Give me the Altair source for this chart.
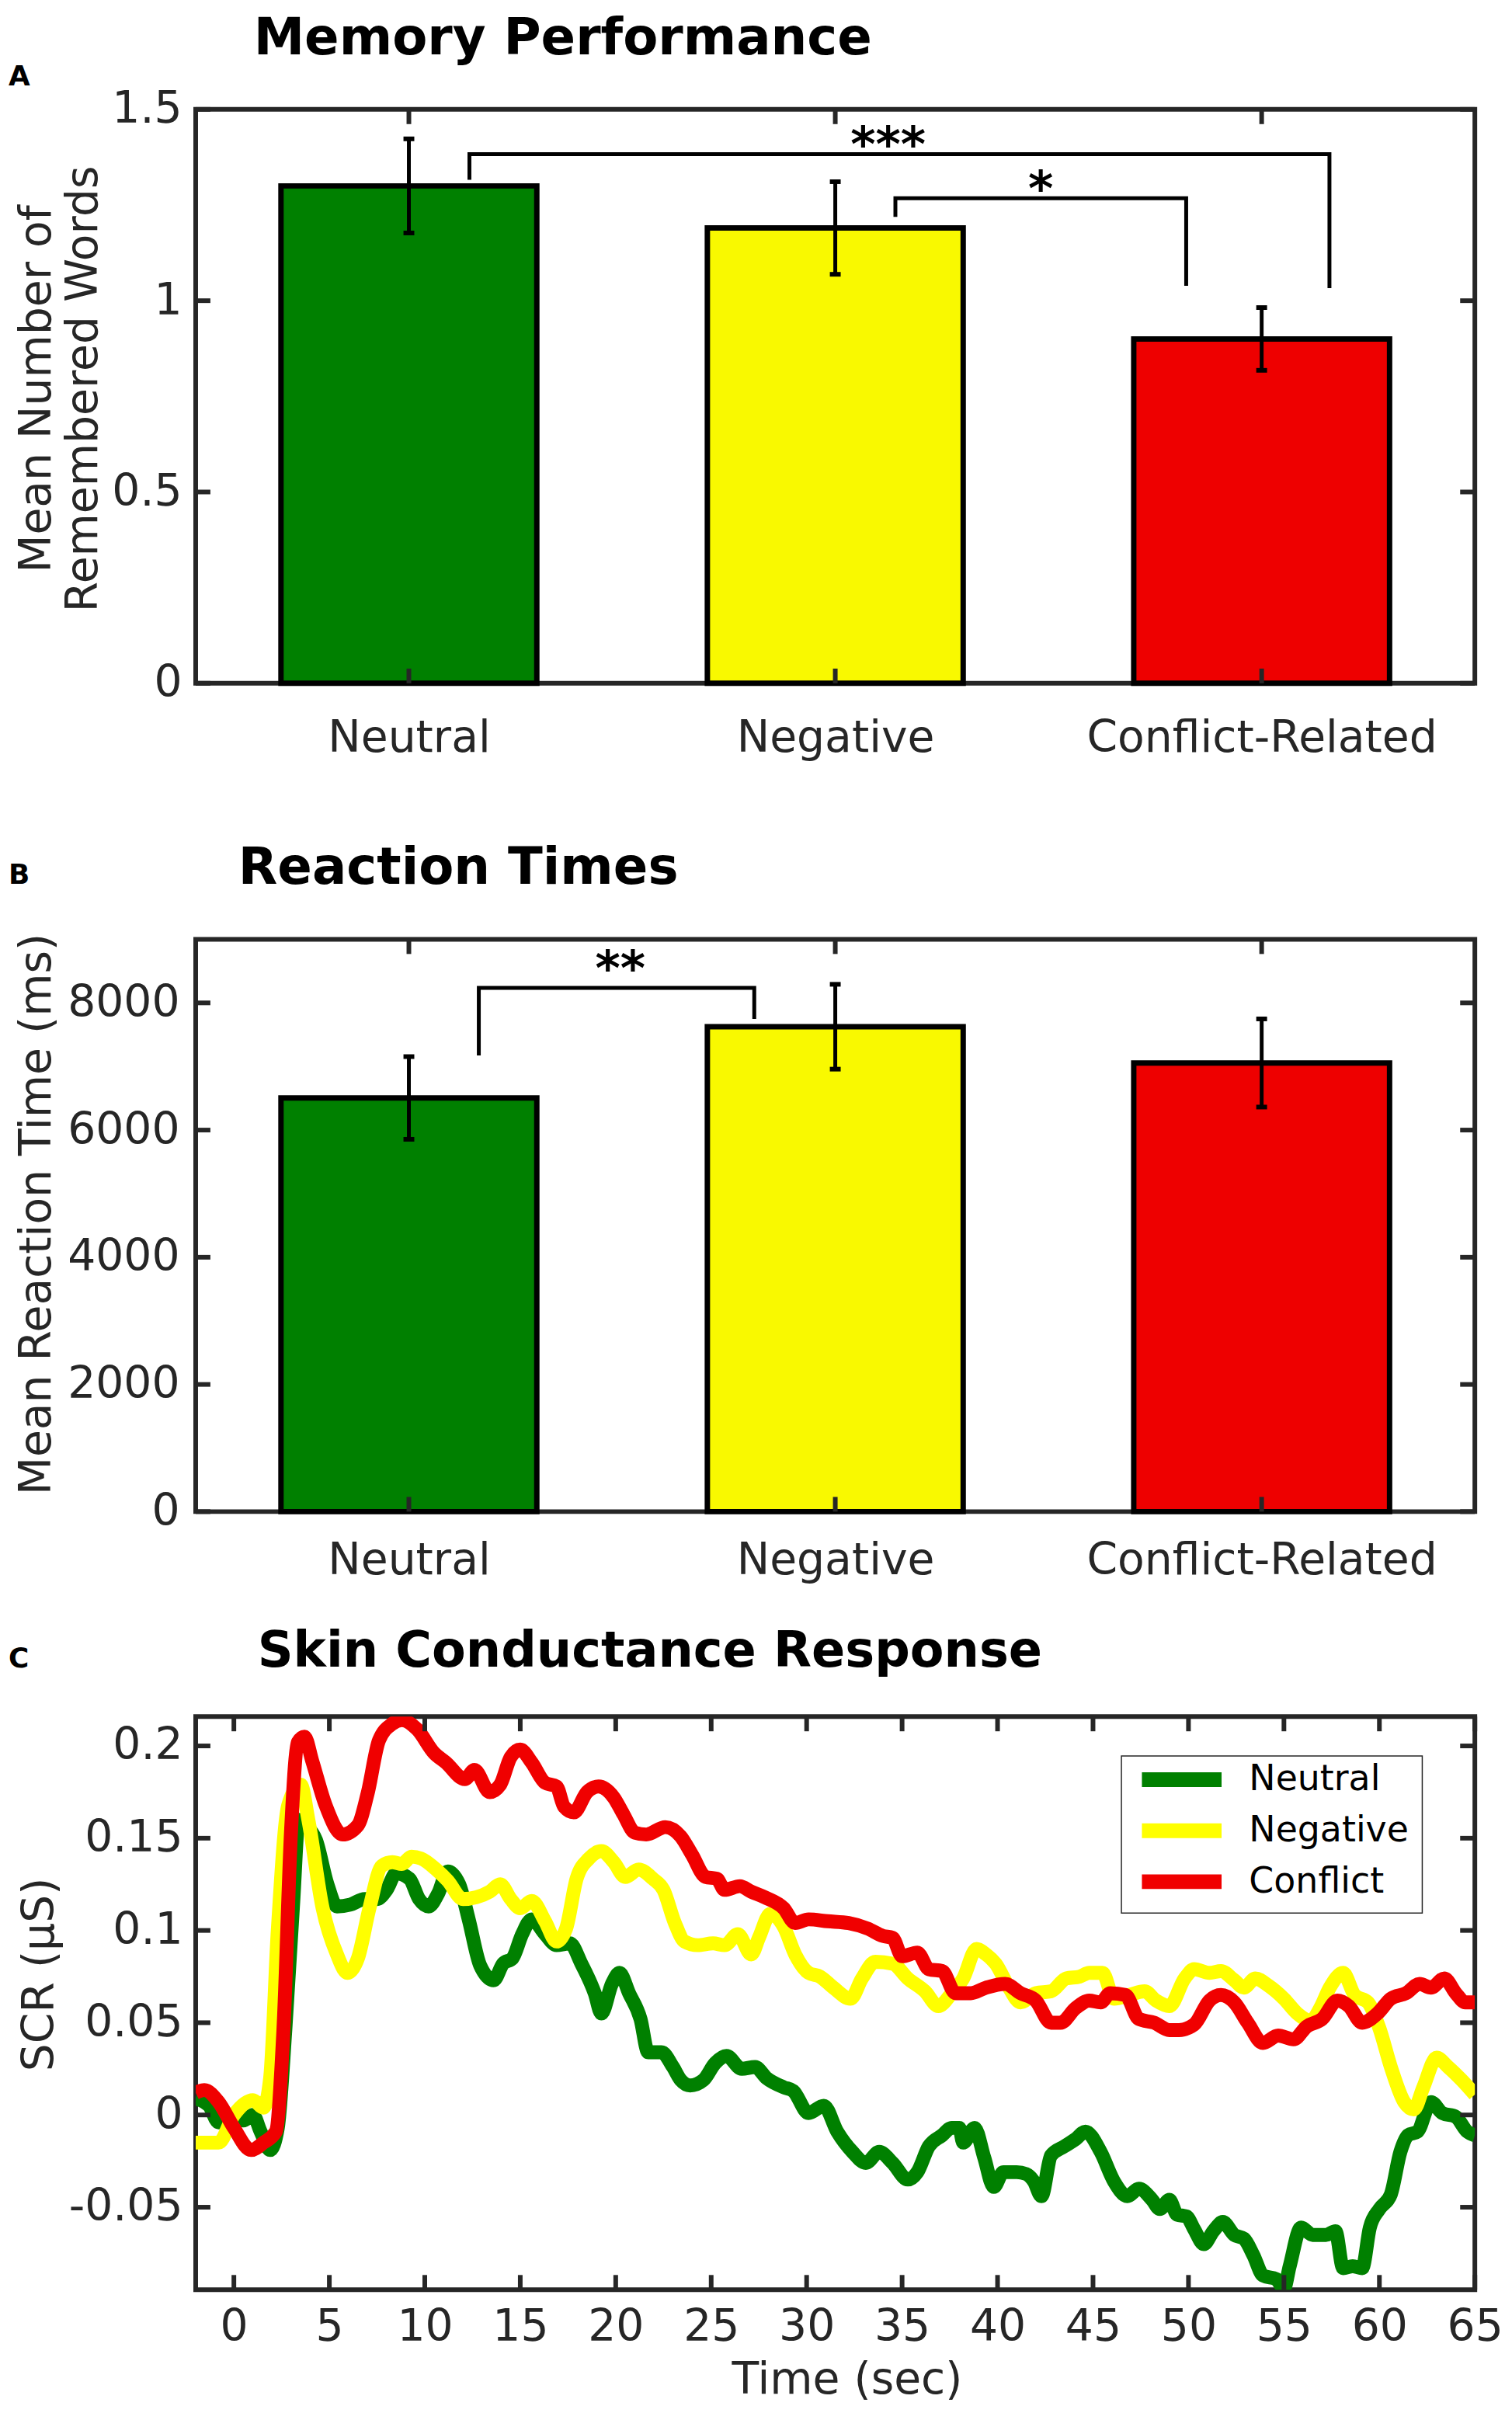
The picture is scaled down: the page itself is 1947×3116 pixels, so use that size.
import altair as alt
import pandas as pd

FONT = "DejaVu Sans"
AXC = "#262626"

# ---------------- data ----------------
CATEGORIES = ["Neutral", "Negative", "Conflict-Related"]
CAT_POS = [1, 2, 3]
BAR_COLORS = ["#008000", "#F9F900", "#EE0000"]

MEM_MEAN = [1.30, 1.19, 0.90]
MEM_ERR = [0.123, 0.121, 0.082]
MEM_YTICKS = [0, 0.5, 1, 1.5]
MEM_BR_X = [[1.142, 1.142, 3.159, 3.159], [2.141, 2.141, 2.823, 2.823]]
MEM_BR_Y = [[1.316, 1.383, 1.383, 1.033], [1.219, 1.268, 1.268, 1.039]]
MEM_STARS = ["***", "*"]
MEM_STAR_X = [2.124, 2.482]
MEM_STAR_Y = [1.366, 1.251]

RT_MEAN = [6505, 7625, 7055]
RT_ERR = [650, 667, 693]
RT_YTICKS = [0, 2000, 4000, 6000, 8000]
RT_BR_X = [[1.164, 1.164, 1.810, 1.810]]
RT_BR_Y = [[7174, 8235, 8235, 7748]]
RT_STARS = ["**"]
RT_STAR_X = [1.496]
RT_STAR_Y = [8287]

SERIES = ["Neutral", "Negative", "Conflict"]
LINE_COLORS = ["#008000", "#FFFF00", "#F00000"]

G_T = [-2.0, -1.3, -0.8, -0.25, 0.5, 1.0, 1.4, 1.9, 2.3, 2.7,
       3.1, 3.4, 3.75, 4.3, 4.9, 5.4, 6.1, 6.85, 7.5, 8.0,
       8.5, 9.2, 9.7, 10.2, 10.7, 11.2, 11.8, 12.3, 12.9, 13.6,
       14.1, 14.6, 15.1, 15.6, 16.3, 16.9, 17.6, 18.2, 18.9, 19.25,
       19.8, 20.2, 20.7, 21.3, 21.7, 22.4, 23.0, 23.4, 23.9, 24.6,
       25.2, 25.8, 26.6, 27.3, 27.9, 28.8, 29.3, 30.1, 30.9, 31.6,
       32.4, 33.1, 33.8, 34.5, 35.3, 35.8, 36.4, 37.1, 37.6, 38.0,
       38.2, 38.8, 39.3, 39.8, 40.3, 41.0, 41.5, 41.9, 42.3, 42.8,
       43.5, 44.1, 44.6, 45.4, 46.1, 46.8, 47.4, 48.1, 48.5, 49.0,
       49.4, 49.9, 50.3, 50.8, 51.3, 51.8, 52.4, 52.9, 53.4, 53.9,
       54.6, 55.0, 55.3, 55.9, 56.5, 57.2, 57.7, 58.1, 58.6, 59.1,
       59.5, 60.0, 60.6, 61.1, 61.5, 62.0, 62.7, 63.3, 64.0, 64.6,
       65.0]
G_V = [0.009, 0.005, -0.004, 0.0, -0.003, 0.0, -0.009, -0.019, -0.007, 0.047,
       0.114, 0.160, 0.157, 0.149, 0.125, 0.113, 0.114, 0.117, 0.117, 0.122,
       0.131, 0.128, 0.117, 0.113, 0.120, 0.132, 0.125, 0.106, 0.081, 0.073,
       0.082, 0.085, 0.098, 0.106, 0.098, 0.092, 0.093, 0.082, 0.066, 0.055,
       0.071, 0.077, 0.066, 0.052, 0.034, 0.034, 0.026, 0.019, 0.016, 0.019,
       0.028, 0.032, 0.025, 0.026, 0.020, 0.015, 0.013, 0.001, 0.005, -0.009,
       -0.020, -0.026, -0.020, -0.026, -0.035, -0.031, -0.017, -0.011, -0.007, -0.007,
       -0.015, -0.007, -0.023, -0.039, -0.031, -0.031, -0.032, -0.036, -0.044, -0.022,
       -0.017, -0.013, -0.009, -0.020, -0.036, -0.044, -0.040, -0.046, -0.051, -0.046,
       -0.054, -0.055, -0.062, -0.070, -0.063, -0.058, -0.065, -0.067, -0.076, -0.087,
       -0.089, -0.094, -0.082, -0.061, -0.065, -0.065, -0.063, -0.083, -0.082, -0.083,
       -0.061, -0.051, -0.043, -0.020, -0.011, -0.009, 0.007, 0.001, -0.001, -0.009,
       -0.011]

Y_T = [-2.0, -0.8, 0.0, 1.0, 1.55, 1.9, 2.3, 2.85, 3.5, 3.9,
       4.65, 5.4, 5.95, 6.5, 7.1, 7.75, 8.3, 8.8, 9.3, 9.8,
       10.6, 11.2, 12.0, 12.7, 13.4, 13.95, 14.5, 15.0, 15.6, 16.3,
       16.9, 17.4, 17.95, 18.6, 19.25, 19.9, 20.5, 21.2, 21.95, 22.5,
       23.1, 23.6, 24.3, 25.1, 25.7, 26.4, 27.1, 27.5, 28.1, 28.8,
       29.4, 30.1, 30.7, 31.4, 32.3, 32.9, 33.6, 34.5, 35.3, 36.2,
       36.9, 37.6, 38.2, 38.9, 39.4, 39.9, 40.6, 41.2, 42.0, 42.8,
       43.6, 44.3, 44.8, 45.5, 46.1, 46.9, 47.7, 48.3, 49.0, 49.8,
       50.3, 51.1, 51.7, 52.4, 52.9, 53.5, 54.2, 55.0, 55.7, 56.4,
       56.9, 57.4, 58.1, 58.7, 59.4, 60.0, 60.6, 61.3, 61.8, 62.3,
       63.0, 63.6, 64.3, 65.0]
Y_V = [-0.015, -0.015, 0.0, 0.008, 0.004, 0.020, 0.100, 0.168, 0.179, 0.160,
       0.112, 0.087, 0.077, 0.085, 0.112, 0.135, 0.137, 0.136, 0.140, 0.139,
       0.133, 0.127, 0.117, 0.118, 0.121, 0.125, 0.117, 0.112, 0.116, 0.105,
       0.094, 0.101, 0.128, 0.139, 0.143, 0.137, 0.129, 0.133, 0.128, 0.122,
       0.104, 0.094, 0.092, 0.093, 0.092, 0.098, 0.087, 0.096, 0.109, 0.102,
       0.087, 0.077, 0.075, 0.069, 0.063, 0.074, 0.083, 0.082, 0.074, 0.067,
       0.059, 0.066, 0.074, 0.090, 0.087, 0.082, 0.069, 0.061, 0.066, 0.067,
       0.074, 0.075, 0.077, 0.077, 0.063, 0.065, 0.067, 0.062, 0.059, 0.074,
       0.079, 0.077, 0.078, 0.073, 0.069, 0.074, 0.070, 0.063, 0.055, 0.051,
       0.058, 0.069, 0.077, 0.065, 0.061, 0.047, 0.026, 0.007, 0.003, 0.015,
       0.031, 0.026, 0.019, 0.011]

R_T = [-2.0, -1.55, -0.8, 0.0, 0.9, 1.55, 2.2, 2.6, 3.0, 3.35,
       3.7, 4.1, 4.8, 5.7, 6.5, 7.0, 7.6, 8.3, 8.8, 9.6,
       10.5, 11.1, 12.1, 12.6, 13.4, 13.95, 14.5, 15.0, 15.6, 16.3,
       16.9, 17.3, 17.8, 18.5, 19.1, 19.9, 20.4, 21.0, 21.6, 22.6,
       23.4, 24.0, 24.7, 25.3, 25.7, 26.5, 27.1, 27.8,
       28.8, 29.4, 30.1, 31.1, 32.2, 33.2, 34.0, 34.5, 35.0, 35.8,
       36.4, 37.1, 37.8, 38.6, 39.4, 40.4, 41.2, 42.0, 42.8, 43.3,
       44.1, 44.8, 45.4, 45.9, 46.7, 47.4, 48.2, 49.0, 49.5, 50.3,
       51.1, 51.7, 52.4, 53.1, 53.9, 54.7, 55.5, 56.2, 57.0, 57.8,
       58.4, 59.1, 59.9, 60.6, 61.4, 62.1, 62.7, 63.4, 64.0, 64.5,
       65.0]
R_V = [0.012, 0.0135, 0.007, -0.007, -0.019, -0.015, -0.009, 0.047, 0.155, 0.202,
       0.205, 0.192, 0.168, 0.152, 0.157, 0.174, 0.203, 0.212, 0.214, 0.209,
       0.196, 0.191, 0.182, 0.187, 0.175, 0.179, 0.194, 0.198, 0.191, 0.180,
       0.178, 0.167, 0.164, 0.175, 0.178, 0.172, 0.163, 0.153, 0.152, 0.156,
       0.151, 0.141, 0.129, 0.128, 0.122, 0.124, 0.121, 0.118,
       0.112, 0.104, 0.106, 0.105, 0.104, 0.101, 0.097, 0.096, 0.086, 0.088,
       0.079, 0.078, 0.066, 0.066, 0.069, 0.071, 0.066, 0.062, 0.050, 0.050,
       0.058, 0.062, 0.061, 0.066, 0.065, 0.052, 0.050, 0.046, 0.046, 0.049,
       0.062, 0.065, 0.061, 0.050, 0.039, 0.043, 0.041, 0.048, 0.052, 0.062,
       0.059, 0.050, 0.055, 0.063, 0.066, 0.071, 0.069, 0.074, 0.066, 0.061,
       0.061]

SCR_XTICKS = list(range(0, 66, 5))
SCR_YTICKS = [-0.05, 0, 0.05, 0.1, 0.15, 0.2]

# ---------------- layout constants ----------------
W = 1654
H_A, H_B, H_C = 742, 740, 741
GAP_AB, GAP_BC = 331, 265
TICK = 19
LABEL_FS = 57


def tick_rules(xvals, xscale, yvals, yscale, height):
    xt = pd.DataFrame({"v": xvals})
    yt = pd.DataFrame({"v": yvals})
    base_x = alt.Chart(xt).mark_rule(color=AXC, strokeWidth=6)
    base_y = alt.Chart(yt).mark_rule(color=AXC, strokeWidth=6)
    xa = alt.X("v:Q", scale=xscale, axis=None)
    ya = alt.Y("v:Q", scale=yscale, axis=None)
    return [
        base_x.encode(x=xa, y=alt.value(height - TICK), y2=alt.value(height)),
        base_x.encode(x=xa, y=alt.value(0), y2=alt.value(TICK)),
        base_y.encode(y=ya, x=alt.value(0), x2=alt.value(TICK)),
        base_y.encode(y=ya, x=alt.value(W - TICK), x2=alt.value(W)),
    ]


def head_texts(title, title_fs, title_dx, title_dy, letter, letter_dy):
    t = alt.Chart(pd.DataFrame({"t": [title]})).mark_text(
        align="left", baseline="alphabetic", font=FONT, fontSize=title_fs,
        fontWeight="bold", color="black").encode(
        text="t:N", x=alt.value(title_dx), y=alt.value(title_dy))
    l = alt.Chart(pd.DataFrame({"t": [letter]})).mark_text(
        align="left", baseline="alphabetic", font=FONT, fontSize=36,
        fontWeight="bold", color="black").encode(
        text="t:N", x=alt.value(-242), y=alt.value(letter_dy))
    return [t, l]


def cat_label_expr():
    expr = "''"
    for p, c in reversed(list(zip(CAT_POS, CATEGORIES))):
        expr = f"datum.value == {p} ? '{c}' : ({expr})"
    return expr


def bar_panel(means, errs, ydomain, yticks, yfmt, height, ytitle, ytitle_x, ytitle_y,
              ylab_pad, xlab_pad, br_x, br_y, st_text, st_x, st_y,
              title, title_fs, title_dx, title_dy, letter, letter_dy):
    xs = alt.Scale(domain=[0.5, 3.5], nice=False, zero=False)
    ys = alt.Scale(domain=ydomain, nice=False, zero=False)
    df = pd.DataFrame({"cat": CATEGORIES, "c": CAT_POS, "m": means, "e": errs,
                       "col": BAR_COLORS})
    df["x1"] = df["c"] - 0.3
    df["x2"] = df["c"] + 0.3
    df["lo"] = df["m"] - df["e"]
    df["hi"] = df["m"] + df["e"]

    xaxis = alt.Axis(orient="bottom", values=CAT_POS, labelExpr=cat_label_expr(), title=None,
                     labelBaseline="alphabetic", labelPadding=xlab_pad, labelAngle=0,
                     labelLimit=1000)
    yaxis = alt.Axis(orient="left", values=yticks, format=yfmt, title=ytitle, titleX=ytitle_x,
                     titleY=ytitle_y, titleAngle=270, titleBaseline="alphabetic",
                     titleAlign="center", titleLineHeight=60, labelPadding=ylab_pad,
                     titleLimit=2000)

    bars = alt.Chart(df).mark_bar(stroke="black", strokeWidth=7, opacity=1).encode(
        x=alt.X("x1:Q", scale=xs, axis=xaxis), x2="x2:Q",
        y=alt.Y("m:Q", scale=ys, axis=yaxis), y2=alt.datum(0),
        fill=alt.Fill("col:N", scale=None, legend=None))
    err = alt.Chart(df).mark_rule(color="black", strokeWidth=5).encode(
        x=alt.X("c:Q", scale=xs, axis=None), y=alt.Y("lo:Q", scale=ys, axis=None), y2="hi:Q")
    cap_hi = alt.Chart(df).mark_tick(color="black", orient="horizontal", size=14,
                                     thickness=6, opacity=1).encode(
        x=alt.X("c:Q", scale=xs, axis=None), y=alt.Y("hi:Q", scale=ys, axis=None))
    cap_lo = alt.Chart(df).mark_tick(color="black", orient="horizontal", size=14,
                                     thickness=6, opacity=1).encode(
        x=alt.X("c:Q", scale=xs, axis=None), y=alt.Y("lo:Q", scale=ys, axis=None))

    rows = []
    for i, (bx, by) in enumerate(zip(br_x, br_y)):
        for j, (px, py) in enumerate(zip(bx, by)):
            rows.append({"id": i, "o": j, "x": px, "y": py})
    br = alt.Chart(pd.DataFrame(rows)).mark_line(color="black", strokeWidth=5,
                                                  strokeJoin="miter").encode(
        x=alt.X("x:Q", scale=xs, axis=None), y=alt.Y("y:Q", scale=ys, axis=None),
        detail="id:N", order="o:Q")
    st = alt.Chart(pd.DataFrame({"t": st_text, "x": st_x, "y": st_y})).mark_text(
        font=FONT, fontSize=62, fontWeight="bold", color="black",
        align="center", baseline="alphabetic").encode(
        x=alt.X("x:Q", scale=xs, axis=None), y=alt.Y("y:Q", scale=ys, axis=None),
        text="t:N")

    layers = [bars, err, cap_hi, cap_lo, br, st]
    layers += tick_rules(CAT_POS, xs, yticks, ys, height)
    layers += head_texts(title, title_fs, title_dx, title_dy, letter, letter_dy)
    return alt.layer(*layers).resolve_axis(x="independent", y="independent").properties(
        width=W, height=height)


panel_a = bar_panel(MEM_MEAN, MEM_ERR, [0, 1.5], MEM_YTICKS, "~g", H_A,
                    ["Mean Number of", "Remembered Words"], -188, 361,
                    18, 88, MEM_BR_X, MEM_BR_Y, MEM_STARS, MEM_STAR_X, MEM_STAR_Y,
                    "Memory Performance", 66, 75, -71, "A", -31)

panel_b = bar_panel(RT_MEAN, RT_ERR, [0, 9000], RT_YTICKS, "d", H_B,
                    "Mean Reaction Time (ms)", -188, 355,
                    21, 80, RT_BR_X, RT_BR_Y, RT_STARS, RT_STAR_X, RT_STAR_Y,
                    "Reaction Times", 66, 55, -72, "B", -72)

# ---- panel C ----
scr_rows = []
for name, ts, vs in [("Neutral", G_T, G_V), ("Negative", Y_T, Y_V), ("Conflict", R_T, R_V)]:
    for t, v in zip(ts, vs):
        scr_rows.append({"s": name, "t": t, "v": v})
scr = pd.DataFrame(scr_rows)

xs_c = alt.Scale(domain=[-2, 65], nice=False, zero=False)
ys_c = alt.Scale(domain=[-0.0947, 0.2159], nice=False, zero=False)

# legend is placed relative to the whole concat (shared legend), i.e. panel A's origin
LEGEND_Y = H_A + GAP_AB + H_B + GAP_BC + 51

lines = alt.Chart(scr).mark_line(strokeWidth=18, interpolate="monotone", clip=True,
                                 strokeJoin="round").encode(
    x=alt.X("t:Q", scale=xs_c, axis=alt.Axis(
        orient="bottom", values=SCR_XTICKS, format="d", title="Time (sec)",
        titleX=842, titleY=134, titleBaseline="alphabetic", titleAlign="center",
        titleAngle=0, labelBaseline="alphabetic", labelPadding=66, labelAngle=0)),
    y=alt.Y("v:Q", scale=ys_c, axis=alt.Axis(
        orient="left", values=SCR_YTICKS,
        labelExpr="datum.value < 0 ? '-' + format(-datum.value, '~g') : format(datum.value, '~g')",
        title="SCR (\u00b5S)", titleX=-184, titleY=333, titleAngle=270,
        titleBaseline="alphabetic", titleAlign="center", labelPadding=17)),
    color=alt.Color("s:N", scale=alt.Scale(domain=SERIES, range=LINE_COLORS),
                    legend=alt.Legend(
                        orient="none", legendX=1197, legendY=LEGEND_Y, title=None,
                        symbolType="stroke", symbolStrokeWidth=19, symbolSize=10609,
                        clipHeight=27, rowPadding=19, padding=17, labelOffset=26,
                        labelFontSize=46, labelFont=FONT, labelColor="black",
                        labelLimit=600, fillColor="white", strokeColor=AXC,
                        cornerRadius=0)),
    order=alt.Order("t:Q"))

c_layers = [lines]
c_layers += tick_rules(SCR_XTICKS, xs_c, SCR_YTICKS, ys_c, H_C)
c_layers += head_texts("Skin Conductance Response", 64, 80, -65, "C", -64)
panel_c = alt.layer(*c_layers).resolve_axis(x="independent", y="independent").properties(
    width=W, height=H_C)


def spacer(h):
    return alt.Chart(pd.DataFrame({"s": [0]})).mark_point(opacity=0).properties(
        width=W, height=h, view=alt.ViewBackground(stroke="transparent", strokeWidth=0))


chart = alt.vconcat(panel_a, spacer(GAP_AB), panel_b, spacer(GAP_BC), panel_c,
                    spacing=0, bounds="flush", padding=0).configure_view(
    stroke=AXC, strokeWidth=6
).configure_axis(
    labelFont=FONT, titleFont=FONT, labelColor=AXC, titleColor=AXC,
    grid=False, domain=False, ticks=False, tickSize=0,
    labelFontSize=LABEL_FS, titleFontSize=57, titleFontWeight="normal",
    labelFlush=False, labelOverlap=False, labelLimit=1000
).configure_legend(
    labelFont=FONT, strokeWidth=1.5
).configure_text(font=FONT)

chart.save("out.html", embed_options={"renderer": "svg", "actions": False})
